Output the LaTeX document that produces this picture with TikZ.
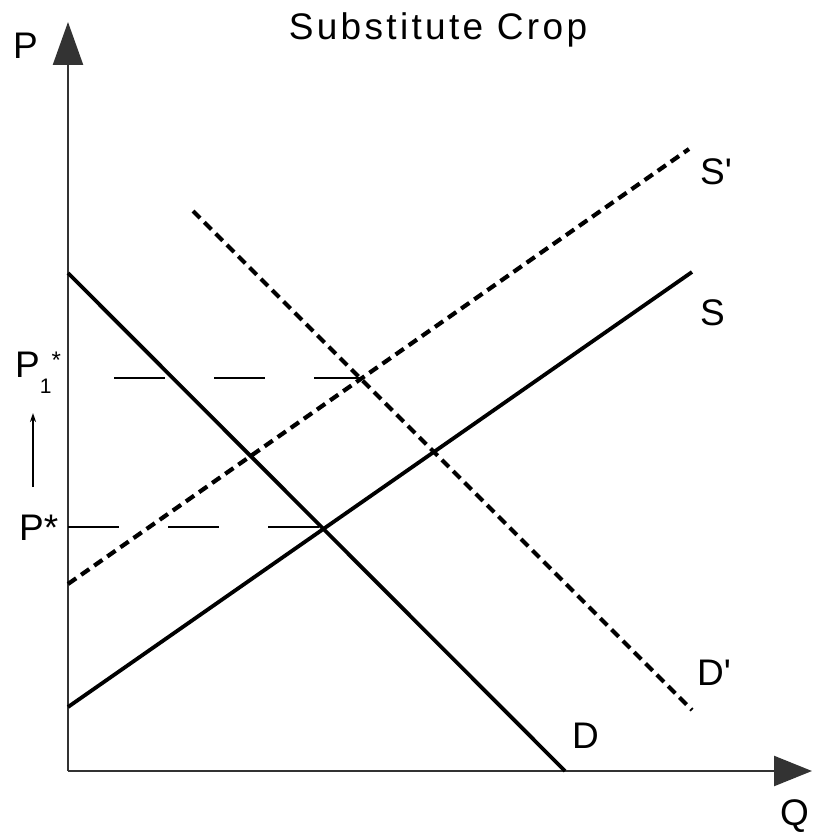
\documentclass[tikz,border=0pt]{standalone}
\usepackage{fontspec}
\setmainfont{Liberation Sans}
\usetikzlibrary{arrows.meta}
\begin{document}
\begin{tikzpicture}[x=1pt,y=-1pt,
  lbl/.style={inner sep=0pt,font=\fontsize{37}{40}\selectfont},
  axisline/.style={line width=2.4pt,black!80},
  curve/.style={line width=3.8pt,black},
  shortdash/.style={line width=4.2pt,black,dash pattern=on 10pt off 6pt},
  longdash/.style={line width=2.2pt,black,dash pattern=on 51pt off 49pt}]
\useasboundingbox (0,0) rectangle (812,834);
% coordinates
\coordinate (O) at (68,771);
\coordinate (Ytop) at (68,22);
\coordinate (Xend) at (812,771);
\coordinate (Dstart) at (68,273);
\coordinate (Dend) at (565,771);
\coordinate (Sstart) at (68,707);
\coordinate (Send) at (692,272);
\coordinate (SPstart) at (68,584);
\coordinate (SPend) at (689,149);
\coordinate (DPstart) at (193,211);
\coordinate (DPend) at (692,710);
\coordinate (Eq) at (323,527);
\coordinate (EqOne) at (363,378);
\coordinate (PstarL) at (68,527);
\coordinate (PoneL) at (114,378);
\coordinate (ArrB) at (33,487);
\coordinate (ArrT) at (33,413);
% axes
\draw[axisline,-{Triangle[length=43pt,width=30pt]}] (O) -- (Ytop);
\draw[axisline,-{Triangle[length=38pt,width=30pt]}] (O) -- (Xend);
% curves
\draw[curve] (Dstart) -- (Dend);
\draw[curve] (Sstart) -- (Send);
\draw[shortdash] (SPstart) -- (SPend);
\draw[shortdash] (DPstart) -- (DPend);
% price lines
\draw[longdash] (PstarL) -- (Eq);
\draw[longdash] (PoneL) -- (EqOne);
\draw[line width=2pt,-{Stealth[length=9pt,width=6pt]}] (ArrB) -- (ArrT);
% labels
\node[lbl,anchor=base] (title) at (438,40) {\addfontfeature{LetterSpace=9}Substitute Crop};
\node[lbl,anchor=base west] (Plbl) at (13,59) {P};
\node[lbl,anchor=base west] (Qlbl) at (780,825) {Q};
\node[lbl,anchor=base west] (SPlbl) at (700,185) {S\textquotesingle};
\node[lbl,anchor=base west] (Slbl) at (700,325) {S};
\node[lbl,anchor=base west] (DPlbl) at (697,685) {D\textquotesingle};
\node[lbl,anchor=base west] (Dlbl) at (572,748) {D};
\node[lbl,anchor=base west] (Pstar) at (19,540) {P*};
\node[lbl,anchor=base west] (Pone) at (15,377) {P\raisebox{-16pt}{\fontsize{21}{21}\selectfont 1}\raisebox{9pt}{\fontsize{24}{24}\selectfont *}};
\end{tikzpicture}
\end{document}
